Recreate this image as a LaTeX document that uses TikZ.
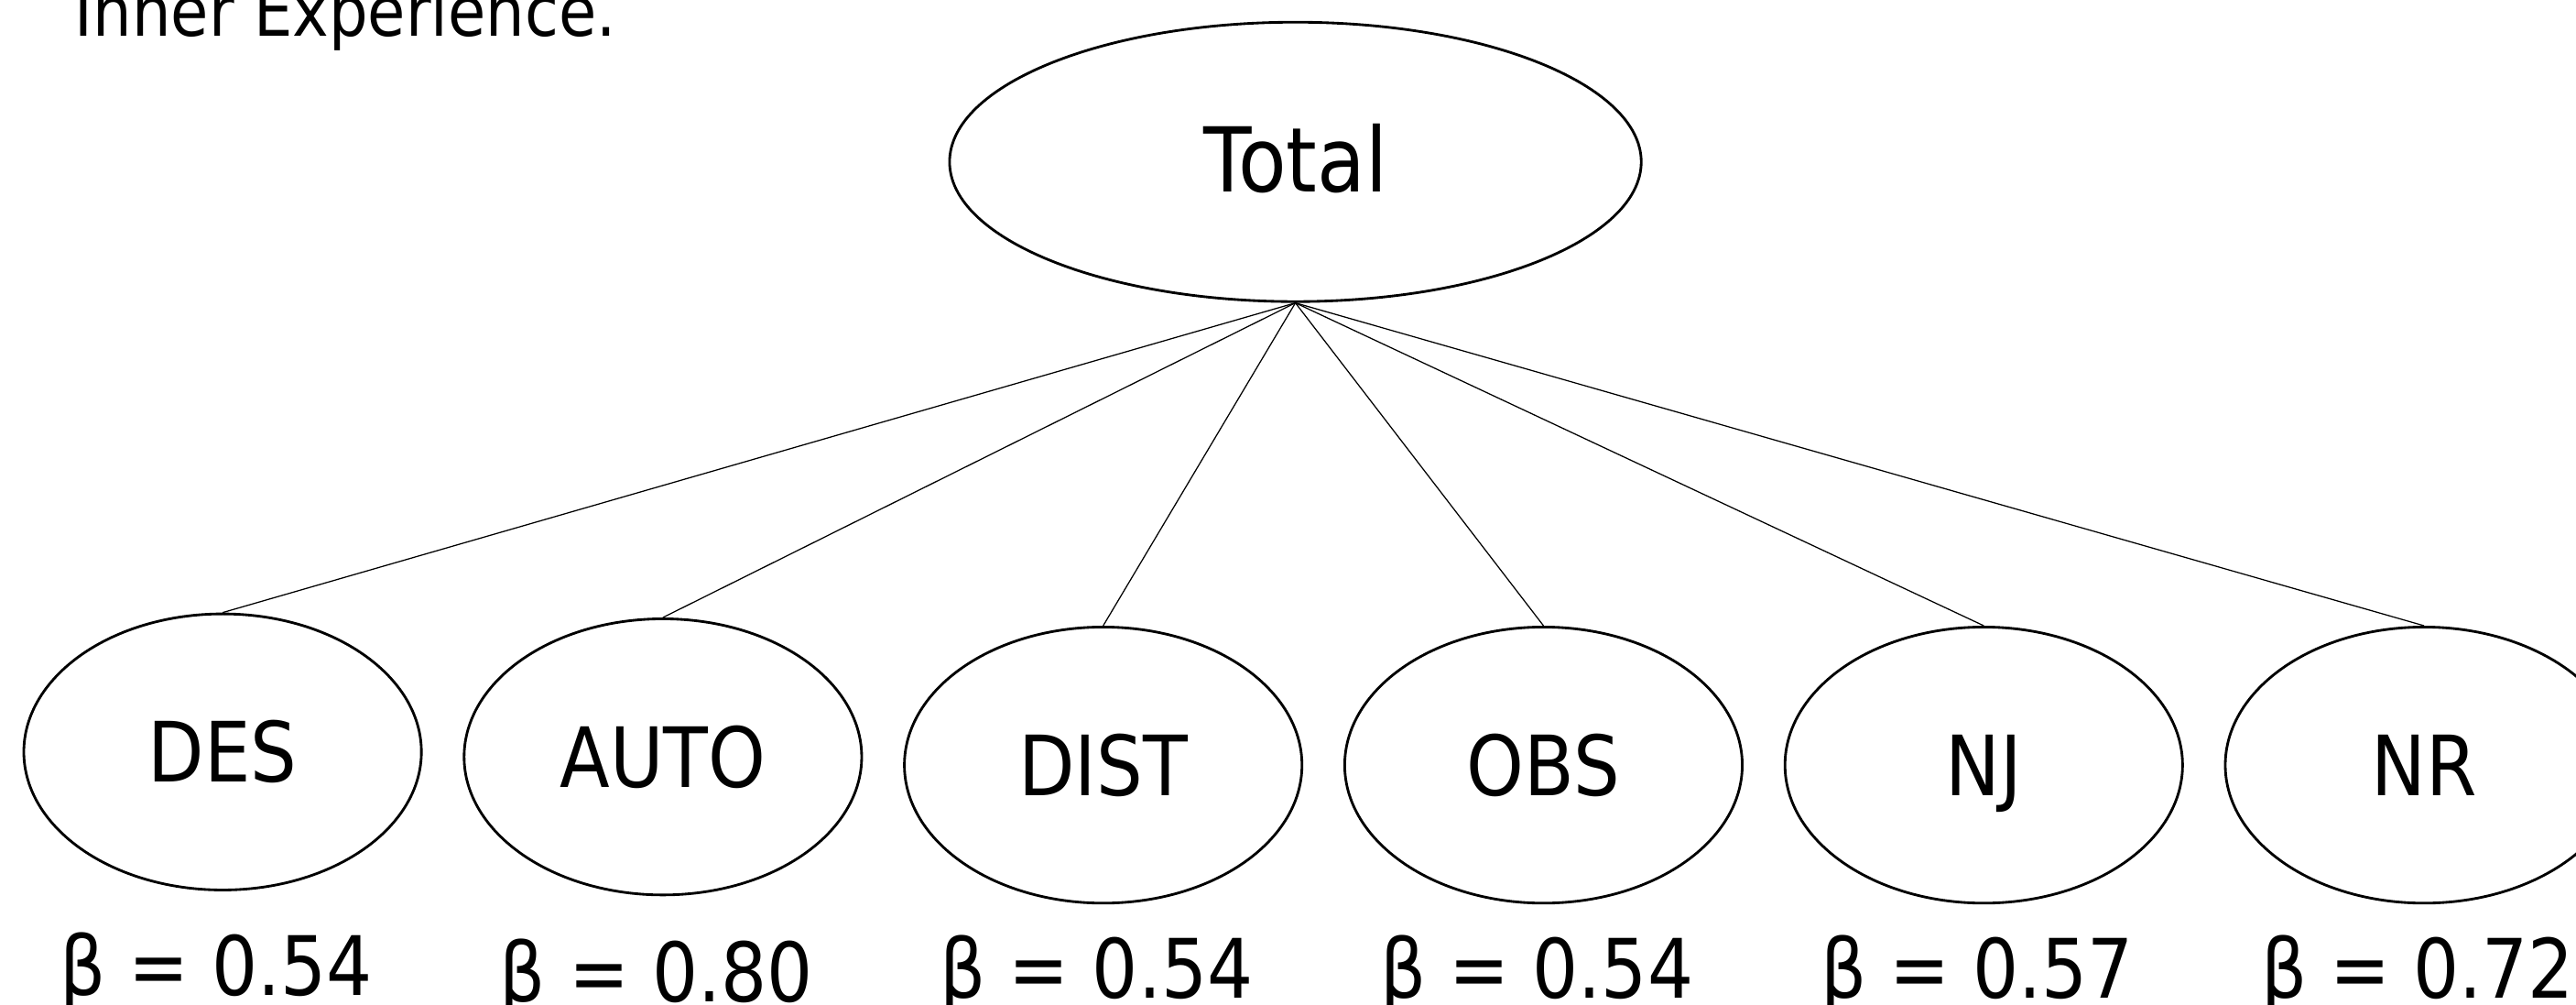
\documentclass[tikz,border=0pt]{standalone}
\usepackage{fontspec}
\setmainfont[FakeStretch=0.88]{DejaVu Sans}
\usetikzlibrary{shapes.geometric}

\tikzset{
  factor/.style={draw, ellipse, line width=0.45pt, minimum width=24.2mm, minimum height=16.8mm,
    inner sep=0pt, text height=3.7mm, text depth=0pt, font=\fontsize{14.4pt}{17pt}\selectfont},
  subscale/.style={factor, xshift=1.7mm},
  loading/.style={inner sep=0pt, xshift=-0.4mm, text height=3.6mm, text depth=0pt, font=\fontsize{14.2pt}{17pt}\selectfont}
}

\begin{document}
\begin{tikzpicture}[level distance=36.7mm,
    edge from parent/.style={draw, line width=0.2pt},
    edge from parent path={(\tikzparentnode.south) -- (\tikzchildnode.north)}]

    \tikzstyle{level 1}=[sibling distance=26.8mm]
    \tikzstyle{level 2}=[level distance=12.4mm]

    \useasboundingbox (0,0) rectangle (15.68,6.11);

    \node[anchor=base west, inner sep=0pt, font=\fontsize{12.1pt}{14pt}\selectfont] (Caption) at (0.45,5.89) {Inner Experience.};

    \node[factor, minimum width=42.1mm, minimum height=17mm, font=\fontsize{15.5pt}{18pt}\selectfont] (Total) at (7.885,5.125) {Total}
    child {
        node[subscale, yshift=0.8mm] (DES) {DES}
        child { node[loading, yshift=-0.6mm] (bDES) {β = 0.54} edge from parent[draw=none] }
    }
    child {
        node[subscale, yshift=0.5mm] (AUTO) {AUTO}
        child { node[loading, yshift=-0.7mm] (bAUTO) {β = 0.80} edge from parent[draw=none] }
    }
    child {
        node[subscale] (DIST) {DIST}
        child { node[loading] (bDIST) {β = 0.54} edge from parent[draw=none] }
    }
    child {
        node[subscale] (OBS) {OBS}
        child { node[loading] (bOBS) {β = 0.54} edge from parent[draw=none] }
    }
    child {
        node[subscale] (NJ) {NJ}
        child { node[loading] (bNJ) {β = 0.57} edge from parent[draw=none] }
    }
    child {
        node[subscale] (NR) {NR}
        child { node[loading] (bNR) {β = 0.72} edge from parent[draw=none] }
    };
\end{tikzpicture}
\end{document}
